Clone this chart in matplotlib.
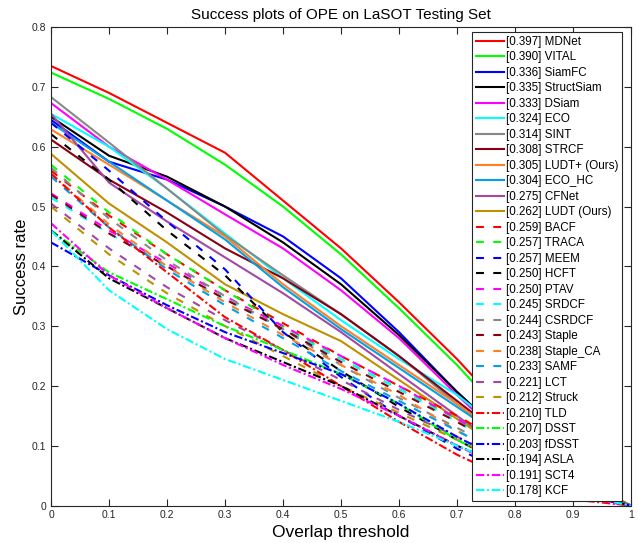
import numpy as np
import matplotlib
matplotlib.use('Agg')
import matplotlib.pyplot as plt

plt.rcParams['font.family'] = ['Liberation Sans', 'DejaVu Sans']

thresholds = [0.0, 0.1, 0.2, 0.3, 0.4, 0.5, 0.6, 0.7, 0.8, 0.9, 1.0]

trackers = ['MDNet', 'VITAL', 'SiamFC', 'StructSiam', 'DSiam', 'ECO', 'SINT', 'STRCF',
            'LUDT+ (Ours)', 'ECO_HC', 'CFNet', 'LUDT (Ours)', 'BACF', 'TRACA', 'MEEM',
            'HCFT', 'PTAV', 'SRDCF', 'CSRDCF', 'Staple', 'Staple_CA', 'SAMF', 'LCT',
            'Struck', 'TLD', 'DSST', 'fDSST', 'ASLA', 'SCT4', 'KCF']

auc = [0.397, 0.390, 0.336, 0.335, 0.333, 0.324, 0.314, 0.308, 0.305, 0.304, 0.275, 0.262,
       0.259, 0.257, 0.257, 0.250, 0.250, 0.245, 0.244, 0.243, 0.238, 0.233, 0.221, 0.212,
       0.210, 0.207, 0.203, 0.194, 0.191, 0.178]

# success rate at each threshold
success = [
    [0.735, 0.690, 0.640, 0.590, 0.510, 0.430, 0.340, 0.245, 0.140, 0.050, 0.0],  # MDNet
    [0.724, 0.680, 0.630, 0.570, 0.500, 0.420, 0.330, 0.235, 0.130, 0.045, 0.0],  # VITAL
    [0.645, 0.575, 0.545, 0.500, 0.450, 0.380, 0.290, 0.190, 0.100, 0.030, 0.0],  # SiamFC
    [0.650, 0.585, 0.550, 0.500, 0.440, 0.370, 0.285, 0.190, 0.100, 0.030, 0.0],  # StructSiam
    [0.673, 0.600, 0.545, 0.487, 0.430, 0.360, 0.280, 0.185, 0.095, 0.025, 0.0],  # DSiam
    [0.655, 0.600, 0.530, 0.455, 0.380, 0.310, 0.245, 0.185, 0.110, 0.035, 0.0],  # ECO
    [0.683, 0.607, 0.530, 0.452, 0.385, 0.320, 0.250, 0.170, 0.100, 0.030, 0.0],  # SINT
    [0.612, 0.545, 0.490, 0.430, 0.380, 0.320, 0.250, 0.175, 0.100, 0.030, 0.0],  # STRCF
    [0.629, 0.570, 0.510, 0.450, 0.370, 0.300, 0.235, 0.170, 0.100, 0.035, 0.0],  # LUDT+
    [0.640, 0.575, 0.510, 0.445, 0.365, 0.295, 0.230, 0.165, 0.100, 0.035, 0.0],  # ECO_HC
    [0.655, 0.540, 0.475, 0.415, 0.355, 0.290, 0.220, 0.150, 0.080, 0.025, 0.0],  # CFNet
    [0.588, 0.505, 0.440, 0.370, 0.320, 0.275, 0.210, 0.145, 0.080, 0.025, 0.0],  # LUDT
    [0.560, 0.485, 0.420, 0.360, 0.305, 0.250, 0.200, 0.150, 0.095, 0.040, 0.0],  # BACF
    [0.570, 0.490, 0.420, 0.360, 0.300, 0.245, 0.195, 0.145, 0.090, 0.035, 0.0],  # TRACA
    [0.640, 0.560, 0.475, 0.395, 0.290, 0.215, 0.150, 0.095, 0.050, 0.015, 0.0],  # MEEM
    [0.621, 0.545, 0.460, 0.385, 0.290, 0.225, 0.165, 0.110, 0.060, 0.020, 0.0],  # HCFT
    [0.522, 0.460, 0.405, 0.350, 0.300, 0.250, 0.200, 0.145, 0.090, 0.035, 0.0],  # PTAV
    [0.515, 0.455, 0.400, 0.345, 0.295, 0.245, 0.195, 0.140, 0.085, 0.030, 0.0],  # SRDCF
    [0.565, 0.480, 0.410, 0.350, 0.295, 0.235, 0.180, 0.130, 0.080, 0.030, 0.0],  # CSRDCF
    [0.520, 0.455, 0.400, 0.345, 0.295, 0.240, 0.190, 0.140, 0.085, 0.030, 0.0],  # Staple
    [0.555, 0.470, 0.400, 0.340, 0.285, 0.235, 0.185, 0.125, 0.075, 0.025, 0.0],  # Staple_CA
    [0.550, 0.465, 0.395, 0.335, 0.280, 0.225, 0.175, 0.125, 0.075, 0.025, 0.0],  # SAMF
    [0.505, 0.430, 0.365, 0.310, 0.260, 0.210, 0.160, 0.115, 0.070, 0.025, 0.0],  # LCT
    [0.500, 0.420, 0.355, 0.300, 0.250, 0.200, 0.155, 0.110, 0.065, 0.020, 0.0],  # Struck
    [0.555, 0.465, 0.390, 0.315, 0.260, 0.200, 0.140, 0.085, 0.040, 0.010, 0.0],  # TLD
    [0.460, 0.390, 0.345, 0.300, 0.260, 0.220, 0.170, 0.110, 0.060, 0.020, 0.0],  # DSST
    [0.440, 0.385, 0.335, 0.290, 0.255, 0.220, 0.170, 0.115, 0.065, 0.020, 0.0],  # fDSST
    [0.460, 0.380, 0.330, 0.280, 0.240, 0.200, 0.150, 0.100, 0.060, 0.020, 0.0],  # ASLA
    [0.472, 0.385, 0.330, 0.280, 0.235, 0.195, 0.150, 0.100, 0.055, 0.015, 0.0],  # SCT4
    [0.460, 0.360, 0.295, 0.245, 0.210, 0.175, 0.140, 0.100, 0.060, 0.020, 0.0],  # KCF
]

colors = ['#ff0000', '#00ff00', '#0000ff', '#000000', '#ff00ff', '#00ffff',
          '#888888', '#880015', '#ff7f27', '#00a2e8', '#a349a4', '#bf9000']

dashed = (0, (3.8, 4.5))
dashdot = (0, (4.0, 1.3, 1.0, 1.3))

fig = plt.figure(figsize=(6.38, 5.43), dpi=100)
ax = fig.add_axes([0.080, 0.069, 0.909, 0.881])

for i, name in enumerate(trackers):
    if i < 12:
        ls = '-'
    elif i < 24:
        ls = dashed
    else:
        ls = dashdot
    ax.plot(thresholds, success[i], color=colors[i % 12], linestyle=ls, lw=1.5,
            label='[%.3f] %s' % (auc[i], name))

ax.set_xlim(0, 1)
ax.set_ylim(0, 0.8)
ax.set_xticks(np.arange(0, 1.01, 0.1))
ax.set_xticklabels(['0', '0.1', '0.2', '0.3', '0.4', '0.5', '0.6', '0.7', '0.8', '0.9', '1'])
ax.set_yticks(np.arange(0, 0.81, 0.1))
ax.set_yticklabels(['0', '0.1', '0.2', '0.3', '0.4', '0.5', '0.6', '0.7', '0.8'])
ax.tick_params(direction='in', top=True, right=True, length=5, width=0.8,
               labelsize=7.5, colors='#262626')
for s in ax.spines.values():
    s.set_color('#262626')
    s.set_linewidth(0.8)

ax.set_title('Success plots of OPE on LaSOT Testing Set', fontsize=11, pad=6)
ax.set_xlabel('Overlap threshold', fontsize=12.5, labelpad=3)
ax.set_ylabel('Success rate', fontsize=12, labelpad=2)

leg = ax.legend(loc='upper right', bbox_to_anchor=(0.9845, 0.9895), borderaxespad=0,
                fontsize=8.4, labelspacing=0.3, handlelength=2.4, handletextpad=0.2,
                borderpad=0.3, fancybox=False, framealpha=1, edgecolor='#262626')
leg.get_frame().set_linewidth(0.8)

fig.savefig('out.png', dpi=100)
